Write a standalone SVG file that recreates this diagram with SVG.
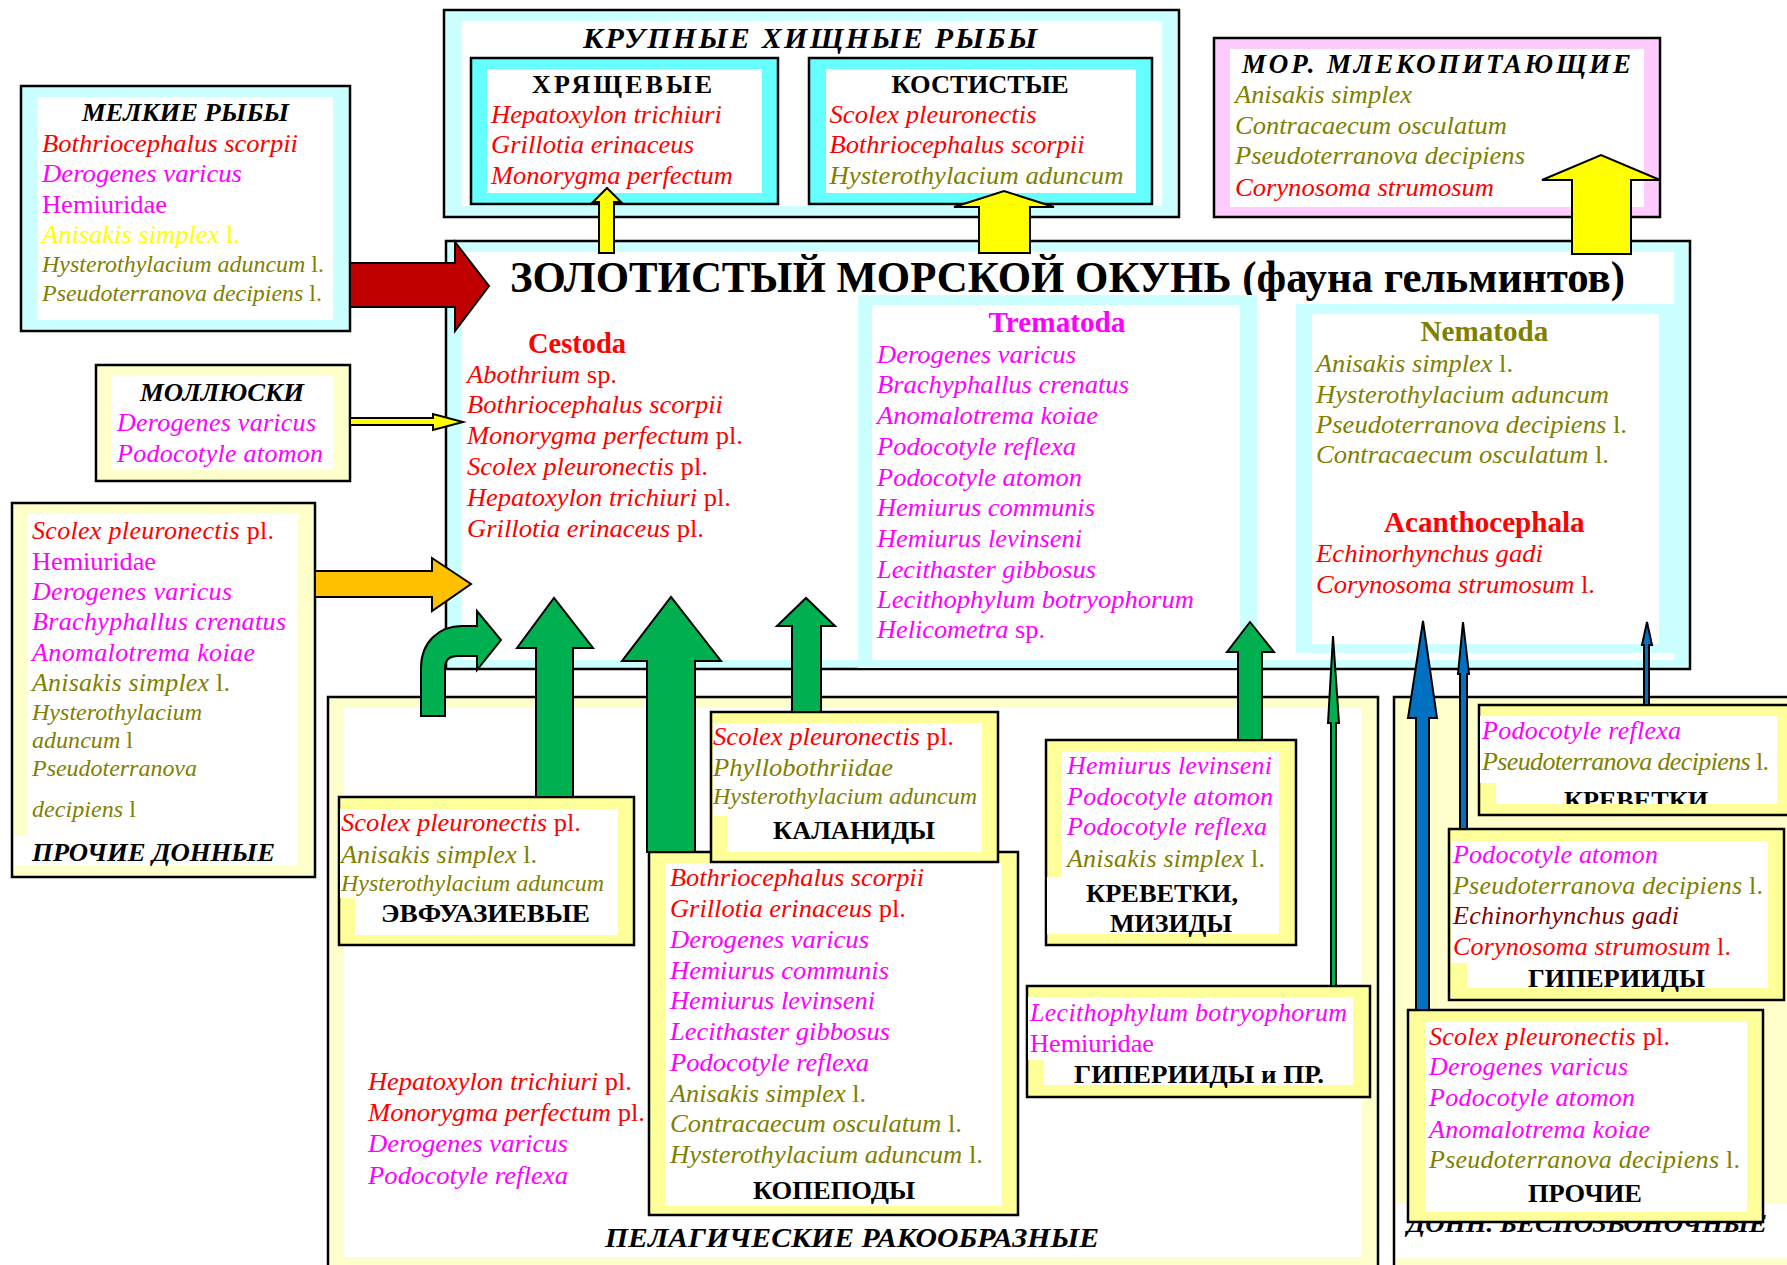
<svg xmlns="http://www.w3.org/2000/svg" width="1787" height="1265" viewBox="0 0 1787 1265">
<style>
text{font-family:"Liberation Serif","Times New Roman",serif}
.sp{font-style:italic;font-size:26px}
.s23{font-size:23px}
.s24{font-size:24px}
.up{font-style:normal}
.r{fill:#FF0000}.m{fill:#FF00FF}.o{fill:#808000}.y{fill:#FFFF00}.dr{fill:#800000}
.h{font-weight:bold;font-size:26px;fill:#000}
.hi{font-weight:bold;font-style:italic;font-size:26px;fill:#000}
.tx{font-weight:bold;font-size:29px}
.box{stroke:#000;stroke-width:2.5}
.cy{fill:#CCFFFF}.aq{fill:#66FFFF}.pk{fill:#FFCCFF}.ly{fill:#FFFFCC}.yy{fill:#FFFF99}
.wh{fill:#FFFFFF}
.ar{stroke:#000;stroke-width:2;stroke-linejoin:miter}
.ag{fill:#00B050}.ab{fill:#0070C0}.ay{fill:#FFFF00}
</style>
<defs>
<clipPath id="clipKr"><rect x="1480" y="700" width="300" height="104"/></clipPath>
</defs>
<rect width="1787" height="1265" fill="#FFFFFF"/>

<!-- main box -->
<g id="n-main">
<rect class="box cy" x="446" y="241" width="1244" height="428"/>
<rect class="wh" x="462" y="252" width="1212" height="408"/>
<text x="510" y="292" textLength="1115" lengthAdjust="spacingAndGlyphs" style="font-weight:bold;font-size:44px">ЗОЛОТИСТЫЙ МОРСКОЙ ОКУНЬ (фауна гельминтов)</text>
<text class="tx r" x="528" y="353" textLength="98" lengthAdjust="spacingAndGlyphs">Cestoda</text>
<text class="sp r" x="467" y="383" textLength="150" lengthAdjust="spacingAndGlyphs">Abothrium<tspan class="up"> sp.</tspan></text>
<text class="sp r" x="467" y="413" textLength="256" lengthAdjust="spacingAndGlyphs">Bothriocephalus scorpii</text>
<text class="sp r" x="467" y="444" textLength="276" lengthAdjust="spacingAndGlyphs">Monorygma perfectum<tspan class="up"> pl.</tspan></text>
<text class="sp r" x="467" y="475" textLength="241" lengthAdjust="spacingAndGlyphs">Scolex pleuronectis<tspan class="up"> pl.</tspan></text>
<text class="sp r" x="467" y="506" textLength="264" lengthAdjust="spacingAndGlyphs">Hepatoxylon trichiuri<tspan class="up"> pl.</tspan></text>
<text class="sp r" x="467" y="537" textLength="237" lengthAdjust="spacingAndGlyphs">Grillotia erinaceus<tspan class="up"> pl.</tspan></text>
</g>
<g id="n-trematoda">
<rect class="cy" x="858" y="295" width="399" height="373"/>
<rect class="wh" x="872" y="305" width="368" height="355"/>
<text class="tx m" x="988.5" y="332" textLength="137" lengthAdjust="spacingAndGlyphs">Trematoda</text>
<text class="sp m" x="877" y="363" textLength="199" lengthAdjust="spacingAndGlyphs">Derogenes varicus</text>
<text class="sp m" x="877" y="393" textLength="252" lengthAdjust="spacingAndGlyphs">Brachyphallus crenatus</text>
<text class="sp m" x="877" y="424" textLength="221" lengthAdjust="spacingAndGlyphs">Anomalotrema koiae</text>
<text class="sp m" x="877" y="455" textLength="199" lengthAdjust="spacingAndGlyphs">Podocotyle reflexa</text>
<text class="sp m" x="877" y="486" textLength="205" lengthAdjust="spacingAndGlyphs">Podocotyle atomon</text>
<text class="sp m" x="877" y="516" textLength="218" lengthAdjust="spacingAndGlyphs">Hemiurus communis</text>
<text class="sp m" x="877" y="547" textLength="205" lengthAdjust="spacingAndGlyphs">Hemiurus levinseni</text>
<text class="sp m" x="877" y="578" textLength="219" lengthAdjust="spacingAndGlyphs">Lecithaster gibbosus</text>
<text class="sp m" x="877" y="608" textLength="317" lengthAdjust="spacingAndGlyphs">Lecithophylum botryophorum</text>
<text class="sp m" x="877" y="638" textLength="168" lengthAdjust="spacingAndGlyphs">Helicometra<tspan class="up"> sp.</tspan></text>
</g>
<g id="n-nematoda">
<rect class="cy" x="1296" y="304" width="378" height="349"/>
<rect class="wh" x="1312" y="314" width="347" height="330"/>
<text class="tx o" x="1420.6" y="341" textLength="127.7" lengthAdjust="spacingAndGlyphs">Nematoda</text>
<text class="sp o" x="1316" y="372" textLength="197" lengthAdjust="spacingAndGlyphs">Anisakis simplex<tspan class="up"> l.</tspan></text>
<text class="sp o" x="1316" y="403" textLength="293" lengthAdjust="spacingAndGlyphs">Hysterothylacium aduncum</text>
<text class="sp o" x="1316" y="433" textLength="311" lengthAdjust="spacingAndGlyphs">Pseudoterranova decipiens<tspan class="up"> l.</tspan></text>
<text class="sp o" x="1316" y="463" textLength="293" lengthAdjust="spacingAndGlyphs">Contracaecum osculatum<tspan class="up"> l.</tspan></text>
<text class="tx r" x="1384" y="532" textLength="200.7" lengthAdjust="spacingAndGlyphs">Acanthocephala</text>
<text class="sp r" x="1316" y="562" textLength="227" lengthAdjust="spacingAndGlyphs">Echinorhynchus gadi</text>
<text class="sp r" x="1316" y="593" textLength="279" lengthAdjust="spacingAndGlyphs">Corynosoma strumosum<tspan class="up"> l.</tspan></text>
</g>

<!-- large predatory fish -->
<g id="n-large-fish">
<rect class="box cy" x="444" y="10" width="735" height="207"/>
<rect class="wh" x="462" y="21" width="700" height="185"/>
<text x="583" y="48" textLength="454" lengthAdjust="spacing" style="font-weight:bold;font-style:italic;font-size:30px;fill:#000">КРУПНЫЕ ХИЩНЫЕ РЫБЫ</text>
</g>
<g id="n-cartilaginous">
<rect class="box aq" x="471" y="58" width="307" height="146"/>
<rect class="wh" x="487" y="69" width="275" height="124"/>
<text class="h" x="532" y="93" textLength="180" lengthAdjust="spacing">ХРЯЩЕВЫЕ</text>
<text class="sp r" x="491" y="123" textLength="231" lengthAdjust="spacingAndGlyphs">Hepatoxylon trichiuri</text>
<text class="sp r" x="491" y="153" textLength="203" lengthAdjust="spacingAndGlyphs">Grillotia erinaceus</text>
<text class="sp r" x="491" y="184" textLength="242" lengthAdjust="spacingAndGlyphs">Monorygma perfectum</text>
</g>
<g id="n-bony">
<rect class="box aq" x="809" y="58" width="343" height="146"/>
<rect class="wh" x="826" y="69" width="310" height="124"/>
<text class="h" x="891.6" y="93" textLength="177" lengthAdjust="spacingAndGlyphs">КОСТИСТЫЕ</text>
<text class="sp r" x="829.5" y="123" textLength="207" lengthAdjust="spacingAndGlyphs">Scolex pleuronectis</text>
<text class="sp r" x="829.5" y="153" textLength="255" lengthAdjust="spacingAndGlyphs">Bothriocephalus scorpii</text>
<text class="sp o" x="829.5" y="184" textLength="294" lengthAdjust="spacingAndGlyphs">Hysterothylacium aduncum</text>
</g>

<!-- marine mammals -->
<g id="n-mammals">
<rect class="box pk" x="1214" y="38" width="446" height="179"/>
<rect class="wh" x="1230" y="49" width="414" height="158"/>
<text class="hi" x="1242" y="73" textLength="389" lengthAdjust="spacing" style="font-size:27px">МОР. МЛЕКОПИТАЮЩИЕ</text>
<text class="sp o" x="1235" y="103" textLength="177" lengthAdjust="spacingAndGlyphs">Anisakis simplex</text>
<text class="sp o" x="1235" y="134" textLength="272" lengthAdjust="spacingAndGlyphs">Contracaecum osculatum</text>
<text class="sp o" x="1235" y="164" textLength="290" lengthAdjust="spacingAndGlyphs">Pseudoterranova decipiens</text>
<text class="sp r" x="1235" y="196" textLength="259" lengthAdjust="spacingAndGlyphs">Corynosoma strumosum</text>
</g>

<!-- small fish -->
<g id="n-small-fish">
<rect class="box cy" x="21" y="86" width="329" height="245"/>
<rect class="wh" x="38" y="97" width="295" height="223"/>
<text class="hi" x="82" y="121" textLength="207" lengthAdjust="spacingAndGlyphs" style="font-size:25px">МЕЛКИЕ РЫБЫ</text>
<text class="sp r" x="42" y="152" textLength="256" lengthAdjust="spacingAndGlyphs">Bothriocephalus scorpii</text>
<text class="sp m" x="42" y="182" textLength="200" lengthAdjust="spacingAndGlyphs">Derogenes varicus</text>
<text class="sp up m" x="42" y="213" textLength="125" lengthAdjust="spacingAndGlyphs">Hemiuridae</text>
<text class="sp y" x="42" y="243" textLength="198" lengthAdjust="spacingAndGlyphs">Anisakis simplex<tspan class="up"> l.</tspan></text>
<text class="sp s23 o" x="42" y="272" textLength="282" lengthAdjust="spacingAndGlyphs">Hysterothylacium aduncum<tspan class="up"> l.</tspan></text>
<text class="sp s24 o" x="42" y="301" textLength="280" lengthAdjust="spacingAndGlyphs">Pseudoterranova decipiens<tspan class="up"> l.</tspan></text>
</g>

<!-- molluscs -->
<g id="n-molluscs">
<rect class="box ly" x="96" y="365" width="254" height="116"/>
<rect class="wh" x="112" y="376" width="221" height="94"/>
<text class="hi" x="140" y="401" textLength="164" lengthAdjust="spacingAndGlyphs" style="font-size:25px">МОЛЛЮСКИ</text>
<text class="sp m" x="117" y="431" textLength="199" lengthAdjust="spacing">Derogenes varicus</text>
<text class="sp m" x="117" y="462" textLength="206" lengthAdjust="spacing">Podocotyle atomon</text>
</g>

<!-- other benthic -->
<g id="n-other-benthic">
<rect class="box ly" x="12" y="503" width="303" height="374"/>
<rect class="wh" x="28" y="514" width="270" height="322"/>
<rect class="wh" x="14" y="836" width="284" height="30"/>
<text class="sp r" x="32" y="539" textLength="242" lengthAdjust="spacing">Scolex pleuronectis<tspan class="up"> pl.</tspan></text>
<text class="sp up m" x="32" y="570" textLength="124" lengthAdjust="spacingAndGlyphs">Hemiuridae</text>
<text class="sp m" x="32" y="600" textLength="200" lengthAdjust="spacing">Derogenes varicus</text>
<text class="sp m" x="32" y="630" textLength="254" lengthAdjust="spacing">Brachyphallus crenatus</text>
<text class="sp m" x="32" y="661" textLength="223" lengthAdjust="spacing">Anomalotrema koiae</text>
<text class="sp o" x="32" y="691" textLength="198" lengthAdjust="spacing">Anisakis simplex<tspan class="up"> l.</tspan></text>
<text class="sp s24 o" x="32" y="720" textLength="170" lengthAdjust="spacing">Hysterothylacium</text>
<text class="sp s24 o" x="32" y="748" textLength="101" lengthAdjust="spacing">aduncum<tspan class="up"> l</tspan></text>
<text class="sp s24 o" x="32" y="776" textLength="165" lengthAdjust="spacing">Pseudoterranova</text>
<text class="sp s24 o" x="32" y="817" textLength="104" lengthAdjust="spacing">decipiens<tspan class="up"> l</tspan></text>
<text class="hi" x="32" y="861" textLength="243" lengthAdjust="spacingAndGlyphs" style="font-size:25px">ПРОЧИЕ ДОННЫЕ</text>
</g>

<!-- pelagic crustaceans -->
<g id="n-pelagic">
<rect class="box ly" x="328" y="697" width="1050" height="580"/>
<rect class="wh" x="344" y="708" width="1018" height="549"/>
<text class="sp r" x="368" y="1090" textLength="264" lengthAdjust="spacingAndGlyphs">Hepatoxylon trichiuri<tspan class="up"> pl.</tspan></text>
<text class="sp r" x="368" y="1121" textLength="277" lengthAdjust="spacingAndGlyphs">Monorygma perfectum<tspan class="up"> pl.</tspan></text>
<text class="sp m" x="368" y="1152" textLength="200" lengthAdjust="spacingAndGlyphs">Derogenes varicus</text>
<text class="sp m" x="368" y="1184" textLength="200" lengthAdjust="spacingAndGlyphs">Podocotyle reflexa</text>
<text class="hi" x="605" y="1247" textLength="494" lengthAdjust="spacingAndGlyphs" style="font-size:28px">ПЕЛАГИЧЕСКИЕ РАКООБРАЗНЫЕ</text>
</g>
<g id="n-euphausiids">
<rect class="box yy" x="339" y="797" width="295" height="148"/>
<rect class="wh" x="340" y="809" width="278" height="89"/>
<rect class="wh" x="355" y="897" width="263" height="38"/>
<text class="sp r" x="341" y="831" textLength="240" lengthAdjust="spacingAndGlyphs">Scolex pleuronectis<tspan class="up"> pl.</tspan></text>
<text class="sp o" x="341" y="863" textLength="196" lengthAdjust="spacingAndGlyphs">Anisakis simplex<tspan class="up"> l.</tspan></text>
<text class="sp s23 o" x="341" y="891" textLength="263" lengthAdjust="spacingAndGlyphs">Hysterothylacium aduncum</text>
<text class="h" x="381" y="922" textLength="209" lengthAdjust="spacingAndGlyphs">ЭВФУАЗИЕВЫЕ</text>
</g>
<g id="n-copepods">
<rect class="box yy" x="649" y="852" width="369" height="363"/>
<rect class="wh" x="665" y="863" width="337" height="343"/>
<text class="sp r" x="670" y="886" textLength="254" lengthAdjust="spacingAndGlyphs">Bothriocephalus scorpii</text>
<text class="sp r" x="670" y="917" textLength="236" lengthAdjust="spacingAndGlyphs">Grillotia erinaceus<tspan class="up"> pl.</tspan></text>
<text class="sp m" x="670" y="948" textLength="199" lengthAdjust="spacingAndGlyphs">Derogenes varicus</text>
<text class="sp m" x="670" y="979" textLength="219" lengthAdjust="spacingAndGlyphs">Hemiurus communis</text>
<text class="sp m" x="670" y="1009" textLength="205" lengthAdjust="spacingAndGlyphs">Hemiurus levinseni</text>
<text class="sp m" x="670" y="1040" textLength="220" lengthAdjust="spacingAndGlyphs">Lecithaster gibbosus</text>
<text class="sp m" x="670" y="1071" textLength="199" lengthAdjust="spacingAndGlyphs">Podocotyle reflexa</text>
<text class="sp o" x="670" y="1102" textLength="196" lengthAdjust="spacingAndGlyphs">Anisakis simplex<tspan class="up"> l.</tspan></text>
<text class="sp o" x="670" y="1132" textLength="292" lengthAdjust="spacingAndGlyphs">Contracaecum osculatum<tspan class="up"> l.</tspan></text>
<text class="sp o" x="670" y="1163" textLength="313" lengthAdjust="spacingAndGlyphs">Hysterothylacium aduncum<tspan class="up"> l.</tspan></text>
<text class="h" x="753" y="1199" textLength="162" lengthAdjust="spacingAndGlyphs">КОПЕПОДЫ</text>
</g>
<g id="n-calanids">
<rect class="box yy" x="711" y="712" width="287" height="150"/>
<rect class="wh" x="713" y="723" width="269" height="93"/>
<rect class="wh" x="727" y="815" width="255" height="37"/>
<text class="sp r" x="713" y="745" textLength="241" lengthAdjust="spacingAndGlyphs">Scolex pleuronectis<tspan class="up"> pl.</tspan></text>
<text class="sp o" x="713" y="776" textLength="180" lengthAdjust="spacingAndGlyphs">Phyllobothriidae</text>
<text class="sp s23 o" x="713" y="804" textLength="264" lengthAdjust="spacingAndGlyphs">Hysterothylacium aduncum</text>
<text class="h" x="773" y="839" textLength="162" lengthAdjust="spacingAndGlyphs">КАЛАНИДЫ</text>
</g>
<g id="n-shrimps-mysids">
<rect class="box yy" x="1046" y="740" width="250" height="205"/>
<rect class="wh" x="1062" y="752" width="217" height="126"/>
<rect class="wh" x="1047" y="877" width="232" height="57"/>
<text class="sp m" x="1067" y="774" textLength="205" lengthAdjust="spacing">Hemiurus levinseni</text>
<text class="sp m" x="1067" y="805" textLength="206" lengthAdjust="spacing">Podocotyle atomon</text>
<text class="sp m" x="1067" y="835" textLength="200" lengthAdjust="spacing">Podocotyle reflexa</text>
<text class="sp o" x="1067" y="867" textLength="198" lengthAdjust="spacing">Anisakis simplex<tspan class="up"> l.</tspan></text>
<text class="h" x="1086" y="902" textLength="152" lengthAdjust="spacingAndGlyphs">КРЕВЕТКИ,</text>
<text class="h" x="1110" y="932" textLength="122" lengthAdjust="spacingAndGlyphs">МИЗИДЫ</text>
</g>
<g id="n-hyperiids-etc">
<rect class="box yy" x="1027" y="986" width="343" height="111"/>
<rect class="wh" x="1028" y="997" width="325" height="63"/>
<rect class="wh" x="1044" y="1059" width="309" height="26"/>
<text class="sp m" x="1030" y="1021" textLength="317" lengthAdjust="spacing">Lecithophylum botryophorum</text>
<text class="sp up m" x="1030" y="1052" textLength="124" lengthAdjust="spacingAndGlyphs">Hemiuridae</text>
<text class="h" x="1074" y="1083" textLength="250" lengthAdjust="spacingAndGlyphs">ГИПЕРИИДЫ и ПР.</text>
</g>

<!-- benthic invertebrates -->
<g id="n-benthic">
<rect class="box ly" x="1394" y="697" width="420" height="600"/>
<rect class="wh" x="1396" y="1204" width="400" height="54"/>
<text class="hi" x="1407" y="1232" textLength="360" lengthAdjust="spacingAndGlyphs">ДОНН. БЕСПОЗВОНОЧНЫЕ</text>
</g>
<g id="n-shrimps">
<rect class="box yy" x="1479" y="705" width="320" height="110"/>
<rect class="wh" x="1480" y="716" width="297" height="67"/>
<rect class="wh" x="1496" y="782" width="281" height="22"/>
<text class="sp m" x="1482" y="739" textLength="199" lengthAdjust="spacing">Podocotyle reflexa</text>
<text class="sp o" x="1482" y="770" textLength="287" lengthAdjust="spacing">Pseudoterranova decipiens<tspan class="up"> l.</tspan></text>
<text class="h" x="1564" y="809" textLength="144" lengthAdjust="spacingAndGlyphs" clip-path="url(#clipKr)">КРЕВЕТКИ</text>
</g>
<g id="n-hyperiids">
<rect class="box yy" x="1449" y="829" width="335" height="171"/>
<rect class="wh" x="1451" y="841" width="317" height="122"/>
<rect class="wh" x="1467" y="962" width="301" height="26"/>
<text class="sp m" x="1453" y="863" textLength="205" lengthAdjust="spacing">Podocotyle atomon</text>
<text class="sp o" x="1453" y="894" textLength="310" lengthAdjust="spacing">Pseudoterranova decipiens<tspan class="up"> l.</tspan></text>
<text class="sp dr" x="1453" y="924" textLength="226" lengthAdjust="spacing">Echinorhynchus gadi</text>
<text class="sp r" x="1453" y="955" textLength="278" lengthAdjust="spacing">Corynosoma strumosum<tspan class="up"> l.</tspan></text>
<text class="h" x="1528" y="987" textLength="177" lengthAdjust="spacingAndGlyphs">ГИПЕРИИДЫ</text>
</g>
<g id="n-other-inv">
<rect class="box yy" x="1408" y="1010" width="355" height="212"/>
<rect class="wh" x="1425" y="1022" width="322" height="190"/>
<text class="sp r" x="1429" y="1045" textLength="241" lengthAdjust="spacing">Scolex pleuronectis<tspan class="up"> pl.</tspan></text>
<text class="sp m" x="1429" y="1075" textLength="199" lengthAdjust="spacing">Derogenes varicus</text>
<text class="sp m" x="1429" y="1106" textLength="206" lengthAdjust="spacing">Podocotyle atomon</text>
<text class="sp m" x="1429" y="1138" textLength="221" lengthAdjust="spacing">Anomalotrema koiae</text>
<text class="sp o" x="1429" y="1168" textLength="311" lengthAdjust="spacing">Pseudoterranova decipiens<tspan class="up"> l.</tspan></text>
<text class="h" x="1528" y="1202" textLength="114" lengthAdjust="spacingAndGlyphs">ПРОЧИЕ</text>
</g>

<!-- connectors -->
<g id="connectors">
<polygon class="ar" fill="#C00000" points="350,263 455,263 455,242 489,286 455,331 455,307 350,307"/>
<polygon class="ar ay" points="350,418 433,418 433,414 463,422 433,430 433,425 350,425"/>
<polygon class="ar" fill="#FFC000" points="315,571 432,571 432,558 471,584 432,611 432,597 315,597"/>
<polygon class="ar ay" points="599,253 599,202 593,202 607,188 621,202 614,202 614,253"/>
<polygon class="ar ay" points="979,253 979,207 954,207 1004,191 1054,207 1030,207 1030,253"/>
<polygon class="ar ay" points="1572,254 1572,180 1542,180 1601,155 1660,180 1631,180 1631,254"/>
<path class="ar ag" d="M421,716 V668 C421,642 439,626 462,626 H477 V611 L501,640 L477,670 V656 H458 C450,656 445,660 445,668 V716 Z"/>
<polygon class="ar ag" points="536,797 536,648 517,648 554,598 593,648 573,648 573,797"/>
<polygon class="ar ag" points="647,852 647,661 622,661 671,597 721,661 695,661 695,852"/>
<polygon class="ar ag" points="792,712 792,626 777,626 806,598 835,626 821,626 821,712"/>
<polygon class="ar ag" points="1238,740 1238,652 1227,652 1250,622 1274,652 1262,652 1262,740"/>
<polygon class="ar ag" points="1331,986 1331,723 1328,723 1333,636 1339,723 1336,723 1336,986"/>
<polygon class="ar ab" points="1416,1010 1416,718 1408,718 1423,621 1437,718 1429,718 1429,1010"/>
<polygon class="ar ab" points="1460,829 1460,674 1458,674 1463,622 1469,674 1467,674 1467,829"/>
<polygon class="ar ab" points="1644,705 1644,645 1642,645 1647,622 1652,645 1649,645 1649,705"/>
</g>
</svg>
